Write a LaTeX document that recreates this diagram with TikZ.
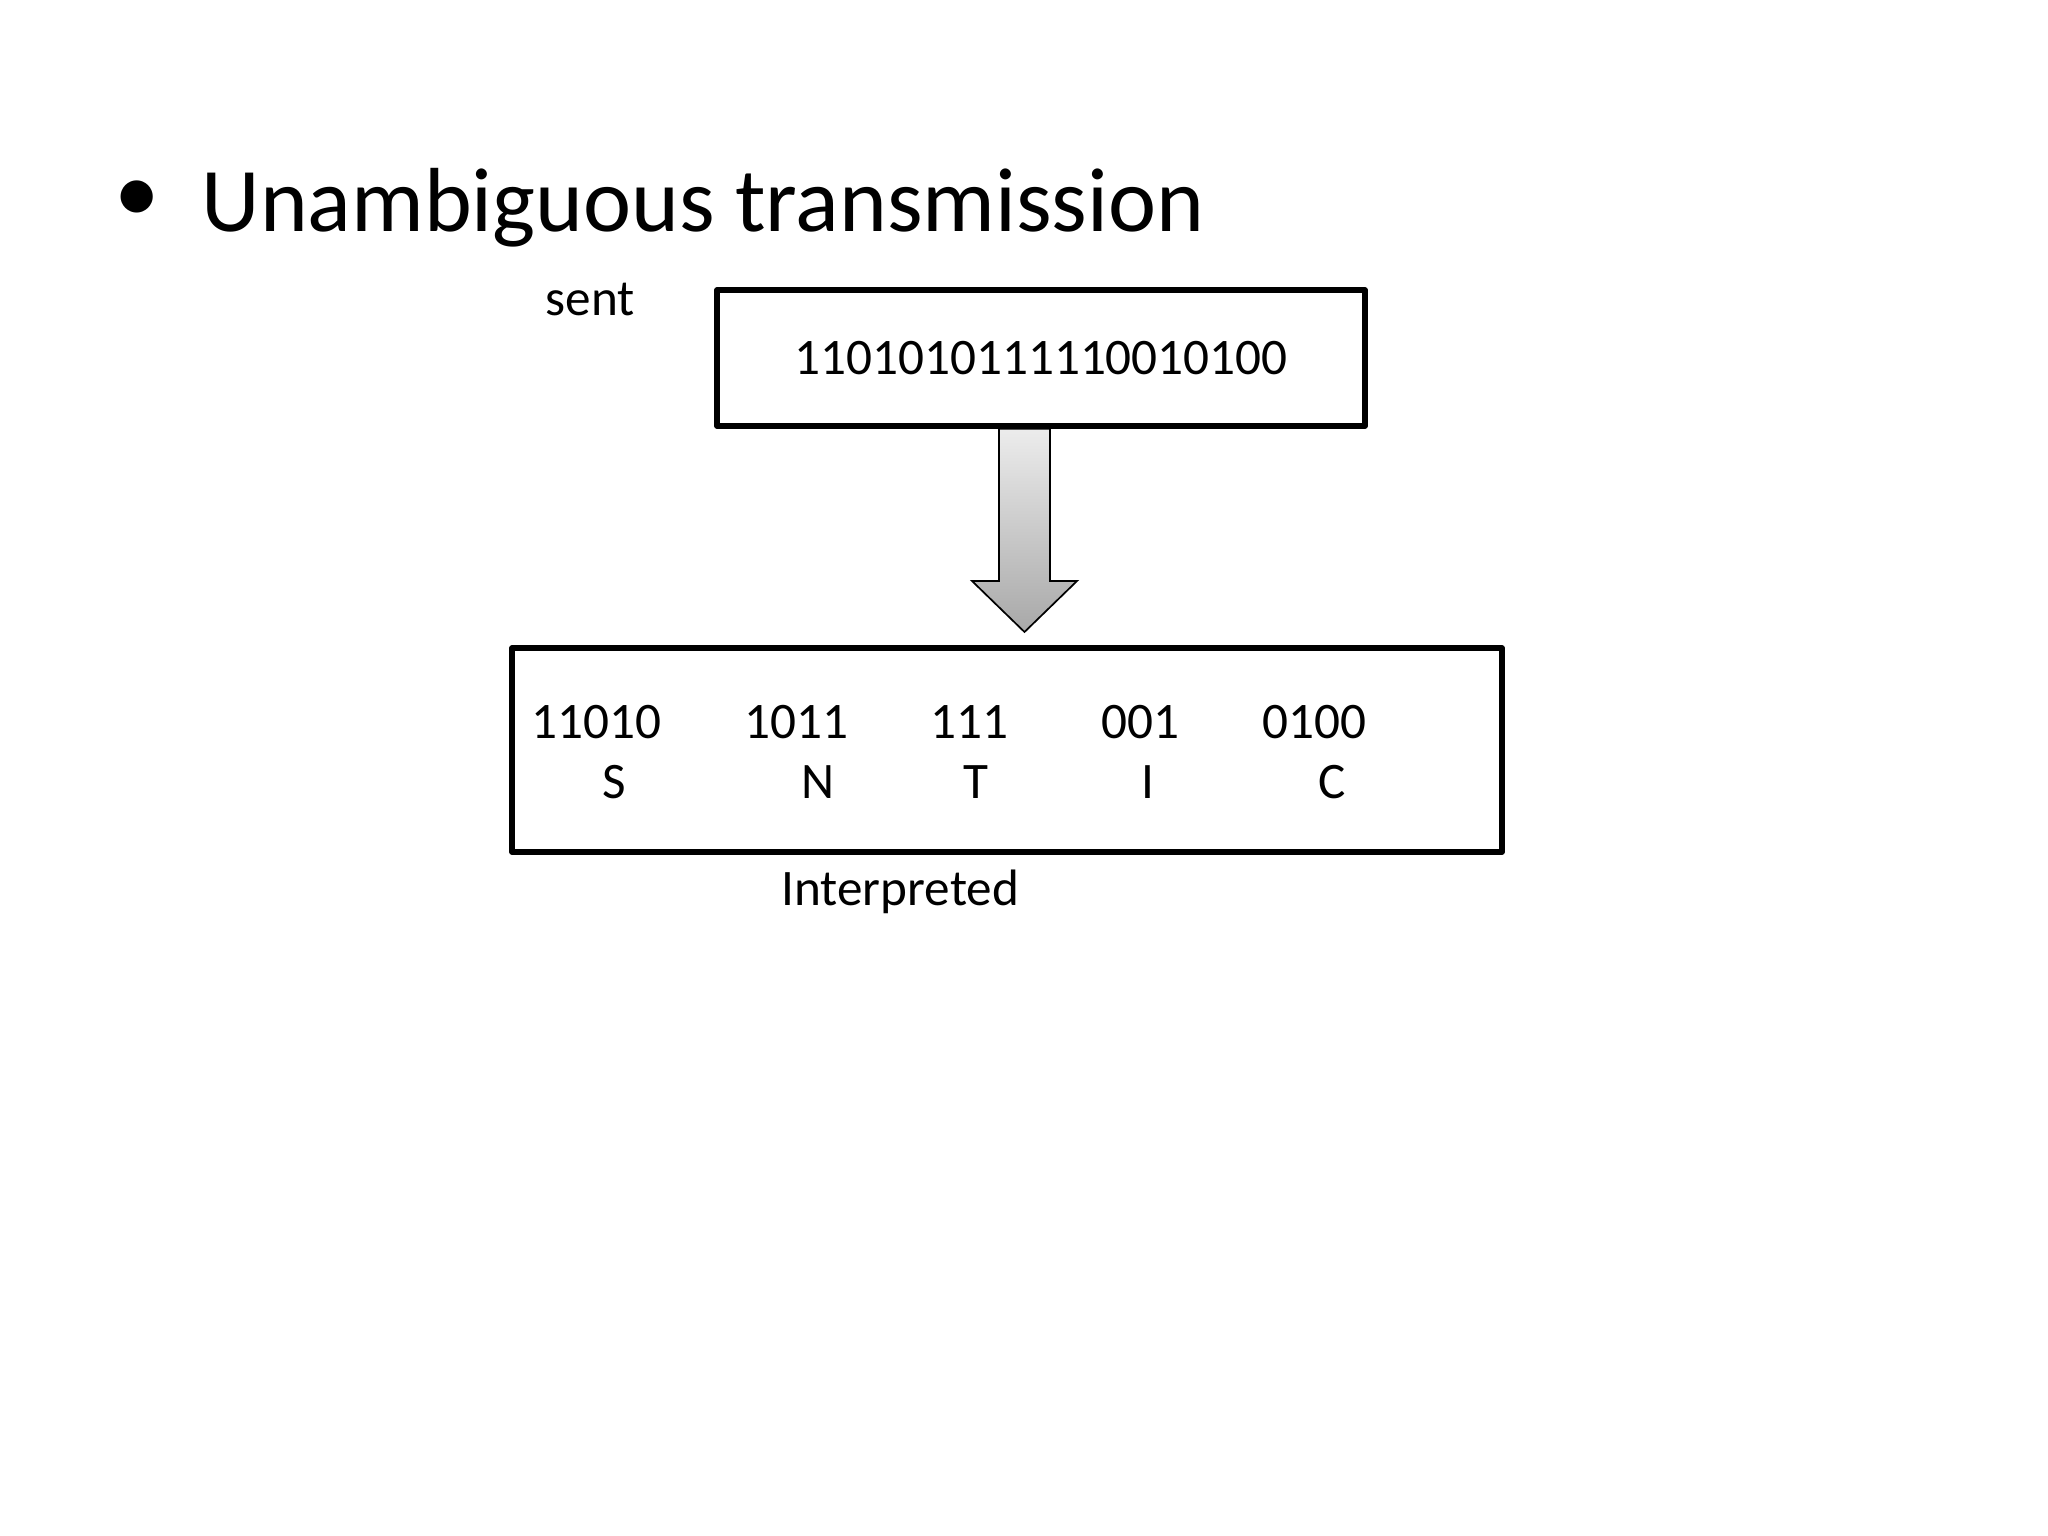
\documentclass[tikz,border=0pt]{standalone}
\usepackage{fontspec}
\setmainfont{Carlito}
\begin{document}
\begin{tikzpicture}[x=0.3515625pt,y=-0.3515625pt,
  lbl/.style={inner sep=0pt,font=\fontsize{18}{21.6}\selectfont},
  frame/.style={draw=black,line width=1.9pt,inner sep=0pt,line join=round,font=\fontsize{18}{21.6}\selectfont},
  blockarrow/.style={draw=black,line width=0.6pt,line join=miter,
    top color={rgb,255:red,236;green,236;blue,236},
    bottom color={rgb,255:red,168;green,168;blue,168}}]
\useasboundingbox[fill=white] (0,0) rectangle (2048,1536);

% title
\node[inner sep=0pt,font=\fontsize{32}{38}\selectfont] (bullet) at (137,202) {•};
\node[inner sep=0pt,anchor=base west,font=\fontsize{32}{38}\selectfont] (title) at (201,232) {Unambiguous transmission};

% sent
\node[lbl,anchor=base west] (sent) at (545,316) {sent};
\node[frame,minimum width=227.8pt,minimum height=47.8pt] (top) at (1041,358) {1101010111110010100};

% arrow
\coordinate (sl) at (999,0);
\coordinate (sr) at (1050,0);
\coordinate (hl) at (972,581);
\coordinate (hr) at (1077,581);
\coordinate (tip) at (1024.5,632);
\draw[blockarrow] (top.south -| sl) -- (hl -| sl) -- (hl) -- (tip) -- (hr) -- (hr -| sr) -- (top.south -| sr) -- cycle;

% interpreted box
\node[frame,minimum width=348.05pt,minimum height=71.72pt] (bottom) at (1007,750) {};
\node[lbl,anchor=base west] (c1) at (531,738) {11010};
\node[lbl,anchor=base west] (c2) at (744,738) {1011};
\node[lbl,anchor=base west] (c3) at (930,738) {111};
\node[lbl,anchor=base west] (c4) at (1101,738) {001};
\node[lbl,anchor=base west] (c5) at (1262,738) {0100};
\node[lbl,anchor=base] (l1) at (614,798) {S};
\node[lbl,anchor=base] (l2) at (818,798) {N};
\node[lbl,anchor=base] (l3) at (976,798) {T};
\node[lbl,anchor=base] (l4) at (1148,798) {I};
\node[lbl,anchor=base] (l5) at (1332,798) {C};
\node[lbl,anchor=base west] (interp) at (781,905) {Interpreted};
\end{tikzpicture}
\end{document}
